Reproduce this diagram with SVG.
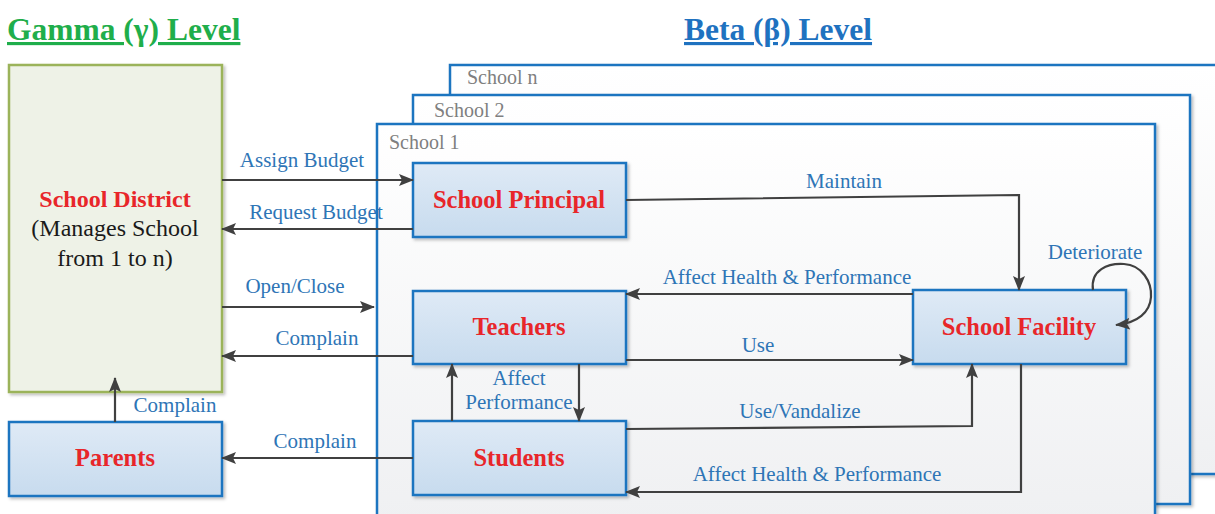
<svg xmlns="http://www.w3.org/2000/svg" width="1215" height="514" viewBox="0 0 1215 514">
<style>
.title{font-family:"Liberation Serif","Times New Roman",serif;font-weight:bold;font-size:31.5px;text-decoration:underline}
.node{stroke:#1c74c0;stroke-width:2.5;fill:url(#nodeFill)}
.ntext{font-family:"Liberation Serif","Times New Roman",serif;font-weight:bold;font-size:24.5px;fill:#e8262a;text-anchor:middle}
.lbl{font-family:"Liberation Serif","Times New Roman",serif;font-size:21px;fill:#2e75b6;text-anchor:middle}
.frame{stroke:#1c74c0;stroke-width:2.5;fill:url(#frameFill)}
.ftext{font-family:"Liberation Serif","Times New Roman",serif;font-size:20px;fill:#7f7f7f}
.dtext{font-family:"Liberation Serif","Times New Roman",serif;font-size:24px;fill:#1a1a1a;text-anchor:middle}
.conn path{fill:none;stroke:#404040;stroke-width:2.2}
.arr{marker-end:url(#ah)}
</style>
<defs>
<linearGradient id="nodeFill" x1="0" y1="0" x2="0" y2="1">
<stop offset="0" stop-color="#dfeaf6"/>
<stop offset="1" stop-color="#c7dbee"/>
</linearGradient>
<linearGradient id="frameFill" x1="0" y1="0" x2="0" y2="1">
<stop offset="0" stop-color="#ffffff"/>
<stop offset="1" stop-color="#eff0f2"/>
</linearGradient>
<filter id="sh" x="-5%" y="-5%" width="115%" height="115%">
<feDropShadow dx="2" dy="2" stdDeviation="1.5" flood-color="#000" flood-opacity="0.25"/>
</filter>
<marker id="ah" viewBox="0 0 15 12" refX="14" refY="6" markerWidth="15" markerHeight="12" markerUnits="userSpaceOnUse" orient="auto">
<path d="M0,0 L15,6 L0,12 L3,6 z" fill="#404040"/>
</marker>
</defs>
<rect width="1215" height="514" fill="#ffffff"/>
<text class="title" x="7" y="40" fill="#1fae4b">Gamma (γ) Level</text>
<text class="title" x="684" y="40" fill="#1f72c0">Beta (β) Level</text>

<g id="school-n">
<rect class="frame" x="450" y="65" width="780" height="409" filter="url(#sh)"/>
<text class="ftext" x="467" y="84">School n</text>
</g>
<g id="school-2">
<rect class="frame" x="413" y="95" width="777" height="409" filter="url(#sh)"/>
<text class="ftext" x="434" y="117">School 2</text>
</g>
<g id="school-1">
<rect class="frame" x="377" y="124" width="778" height="400" filter="url(#sh)"/>
<text class="ftext" x="389" y="149">School 1</text>
</g>

<g id="school-district">
<rect x="9" y="65" width="213" height="327" fill="#eef2e7" stroke="#9bb35a" stroke-width="2.5" filter="url(#sh)"/>
<text class="ntext" x="115" y="207" style="font-size:24px">School District</text>
<text class="dtext" x="115" y="236">(Manages School</text>
<text class="dtext" x="115" y="266">from 1 to n)</text>
</g>
<g id="parents">
<rect class="node" x="9" y="422" width="213" height="74" filter="url(#sh)"/>
<text class="ntext" x="115" y="466">Parents</text>
</g>
<g id="school-principal">
<rect class="node" x="413" y="163" width="213" height="74" filter="url(#sh)"/>
<text class="ntext" x="519" y="208">School Principal</text>
</g>
<g id="teachers">
<rect class="node" x="413" y="291" width="213" height="73" filter="url(#sh)"/>
<text class="ntext" x="519" y="335">Teachers</text>
</g>
<g id="students">
<rect class="node" x="413" y="421" width="213" height="74" filter="url(#sh)"/>
<text class="ntext" x="519" y="466">Students</text>
</g>
<g id="school-facility">
<rect class="node" x="913" y="290" width="213" height="74" filter="url(#sh)"/>
<text class="ntext" x="1019" y="335">School Facility</text>
</g>

<g id="connectors" class="conn">
<path class="arr" d="M222,180 L413,180"/>
<path class="arr" d="M413,229 L222,229"/>
<path class="arr" d="M222,307 L374,307"/>
<path class="arr" d="M413,356 L222,356"/>
<path class="arr" d="M115,422 L115,378"/>
<path class="arr" d="M413,458 L222,458"/>
<path class="arr" d="M626,200 L1019,195 L1019,290"/>
<path class="arr" d="M913,294 L626,294"/>
<path class="arr" d="M626,360 L913,360"/>
<path class="arr" d="M452,421 L452,364"/>
<path class="arr" d="M579,364 L579,421"/>
<path class="arr" d="M626,429 L972,426 L972,364"/>
<path class="arr" d="M1021,364 L1021,492 L626,492"/>
<path class="arr" d="M1093,290 C1090,270 1108,263 1124,264 C1142,265 1152,282 1151,297 C1150,312 1138,323 1116,325"/>
</g>
<g id="labels">
<text class="lbl" x="302" y="167">Assign Budget</text>
<text class="lbl" x="316" y="219">Request Budget</text>
<text class="lbl" x="295" y="293">Open/Close</text>
<text class="lbl" x="317" y="345">Complain</text>
<text class="lbl" x="175" y="412">Complain</text>
<text class="lbl" x="315" y="448">Complain</text>
<text class="lbl" x="844" y="188">Maintain</text>
<text class="lbl" x="787" y="284">Affect Health &amp; Performance</text>
<text class="lbl" x="758" y="352">Use</text>
<text class="lbl" x="519" y="385">Affect</text>
<text class="lbl" x="519" y="409">Performance</text>
<text class="lbl" x="800" y="418">Use/Vandalize</text>
<text class="lbl" x="817" y="481">Affect Health &amp; Performance</text>
<text class="lbl" x="1095" y="259">Deteriorate</text>
</g>
</svg>
